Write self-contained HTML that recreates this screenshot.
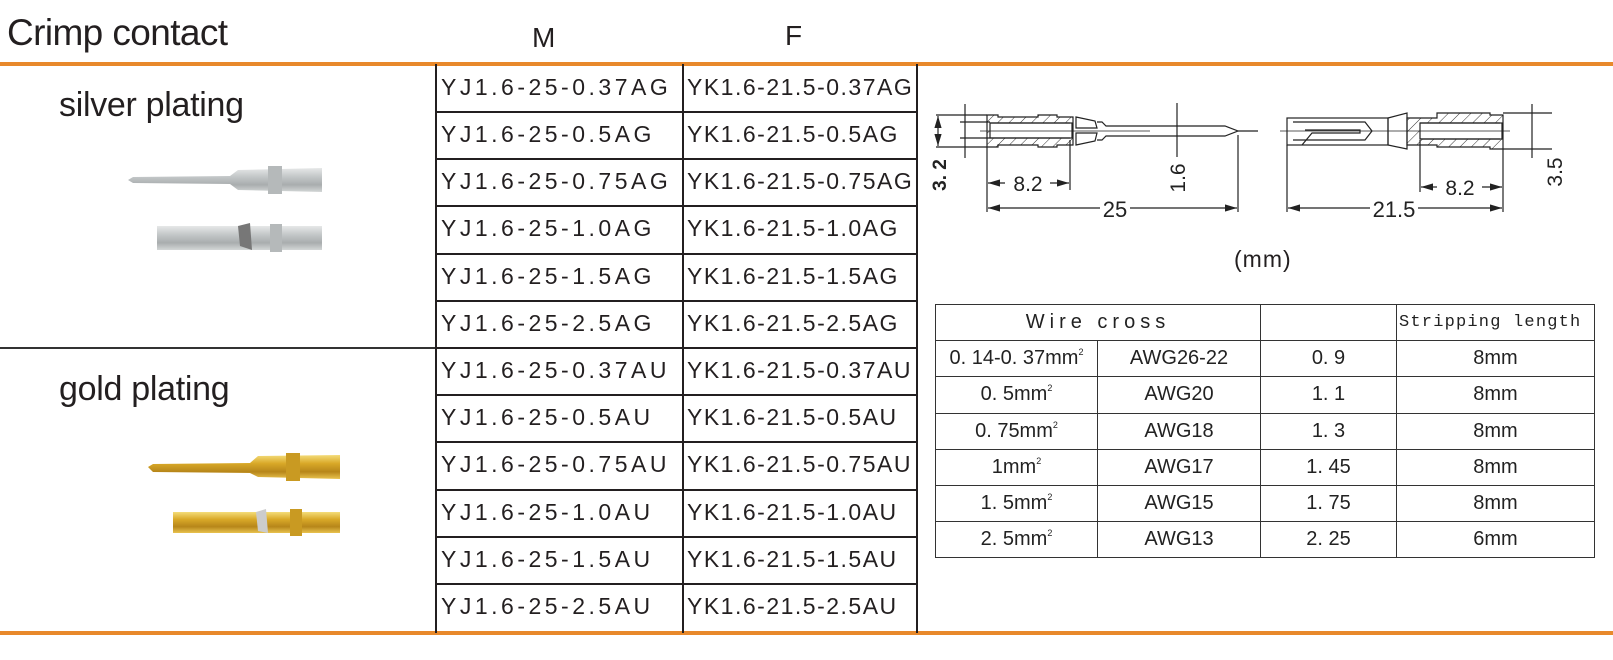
<!DOCTYPE html>
<html><head><meta charset="utf-8"><style>
*{margin:0;padding:0;box-sizing:border-box}
body{width:1613px;height:660px;background:#fff;position:relative;overflow:hidden;font-family:"Liberation Sans",Arial,sans-serif;color:#231f20}
.a{position:absolute;white-space:nowrap}
.hl{position:absolute;background:#231f20}
.cell{position:absolute;font-size:23px;letter-spacing:3.5px;line-height:47px;padding-left:5px;white-space:nowrap}
.f{letter-spacing:1.5px;padding-left:4px}
table.w{position:absolute;left:935px;top:304px;border-collapse:collapse}
table.w td{border:1.5px solid #333;height:36.2px;text-align:center;font-size:20px;padding:0;color:#222}
sup{font-size:9px;vertical-align:9px}
</style></head><body>
<div class="a" style="left:7px;top:12px;font-size:37px;letter-spacing:-0.6px">Crimp contact</div>
<div class="a" style="left:532px;top:22px;font-size:28px">M</div>
<div class="a" style="left:785px;top:20px;font-size:28px">F</div>
<div class="a" style="left:0;top:62px;width:1613px;height:4px;background:#e8892b"></div>
<div class="a" style="left:0;top:631px;width:1613px;height:4px;background:#e8892b"></div>
<div class="a" style="left:0;top:347px;width:436px;height:2px;background:#333"></div>
<div class="a" style="left:59px;top:86px;font-size:34px;letter-spacing:-0.3px">silver plating</div>
<div class="a" style="left:59px;top:370px;font-size:34px;letter-spacing:-0.3px">gold plating</div>

<div class="hl" style="left:435px;top:64px;width:2px;height:569px"></div>
<div class="hl" style="left:682px;top:64px;width:2px;height:569px"></div>
<div class="hl" style="left:916px;top:64px;width:2px;height:569px"></div>
<div style="position:absolute;left:436px;top:64px;width:481px">
<div style="position:relative">
<div class="hl" style="left:0;top:47px;width:481px;height:2px"></div>
<div class="hl" style="left:0;top:94px;width:481px;height:2px"></div>
<div class="hl" style="left:0;top:141px;width:481px;height:2px"></div>
<div class="hl" style="left:0;top:189px;width:481px;height:2px"></div>
<div class="hl" style="left:0;top:236px;width:481px;height:2px"></div>
<div class="hl" style="left:0;top:283px;width:481px;height:2px"></div>
<div class="hl" style="left:0;top:330px;width:481px;height:2px"></div>
<div class="hl" style="left:0;top:377px;width:481px;height:2px"></div>
<div class="hl" style="left:0;top:425px;width:481px;height:2px"></div>
<div class="hl" style="left:0;top:472px;width:481px;height:2px"></div>
<div class="hl" style="left:0;top:519px;width:481px;height:2px"></div>
<div class="cell" style="left:0;top:0">YJ1.6-25-0.37AG</div><div class="cell f" style="left:247px;top:0">YK1.6-21.5-0.37AG</div>
<div class="cell" style="left:0;top:47px">YJ1.6-25-0.5AG</div><div class="cell f" style="left:247px;top:47px">YK1.6-21.5-0.5AG</div>
<div class="cell" style="left:0;top:94px">YJ1.6-25-0.75AG</div><div class="cell f" style="left:247px;top:94px">YK1.6-21.5-0.75AG</div>
<div class="cell" style="left:0;top:141px">YJ1.6-25-1.0AG</div><div class="cell f" style="left:247px;top:141px">YK1.6-21.5-1.0AG</div>
<div class="cell" style="left:0;top:189px">YJ1.6-25-1.5AG</div><div class="cell f" style="left:247px;top:189px">YK1.6-21.5-1.5AG</div>
<div class="cell" style="left:0;top:236px">YJ1.6-25-2.5AG</div><div class="cell f" style="left:247px;top:236px">YK1.6-21.5-2.5AG</div>
<div class="cell" style="left:0;top:283px">YJ1.6-25-0.37AU</div><div class="cell f" style="left:247px;top:283px">YK1.6-21.5-0.37AU</div>
<div class="cell" style="left:0;top:330px">YJ1.6-25-0.5AU</div><div class="cell f" style="left:247px;top:330px">YK1.6-21.5-0.5AU</div>
<div class="cell" style="left:0;top:377px">YJ1.6-25-0.75AU</div><div class="cell f" style="left:247px;top:377px">YK1.6-21.5-0.75AU</div>
<div class="cell" style="left:0;top:425px">YJ1.6-25-1.0AU</div><div class="cell f" style="left:247px;top:425px">YK1.6-21.5-1.0AU</div>
<div class="cell" style="left:0;top:472px">YJ1.6-25-1.5AU</div><div class="cell f" style="left:247px;top:472px">YK1.6-21.5-1.5AU</div>
<div class="cell" style="left:0;top:519px">YJ1.6-25-2.5AU</div><div class="cell f" style="left:247px;top:519px">YK1.6-21.5-2.5AU</div>
</div></div>

<svg class="a" style="left:0;top:0" width="436" height="620">
<defs>
<linearGradient id="sv" x1="0" y1="0" x2="0" y2="1"><stop offset="0" stop-color="#e6e8e8"/><stop offset=".35" stop-color="#c4c8c9"/><stop offset=".7" stop-color="#a9adae"/><stop offset="1" stop-color="#d3d6d6"/></linearGradient>
<linearGradient id="gd" x1="0" y1="0" x2="0" y2="1"><stop offset="0" stop-color="#f4dc7a"/><stop offset=".35" stop-color="#d9a928"/><stop offset=".7" stop-color="#b7861a"/><stop offset="1" stop-color="#e9c34f"/></linearGradient>
</defs>
<path d="M128 180 L133 177 L230 176 L238 170 L322 168 L322 192 L238 190 L230 184 L133 183 Z" fill="url(#sv)"/>
<rect x="268" y="166" width="14" height="28" fill="#b5b9ba"/>
<rect x="157" y="226" width="165" height="24" fill="url(#sv)"/>
<rect x="270" y="224" width="12" height="28" fill="#b5b9ba"/>
<path d="M238 226 L250 223 L252 250 L240 246 Z" fill="#777"/>
<path d="M148 467 L153 464 L250 463 L258 456 L340 455 L340 479 L258 477 L250 473 L153 472 Z" fill="url(#gd)"/>
<rect x="286" y="453" width="14" height="28" fill="#c99a22"/>
<rect x="173" y="512" width="167" height="21" fill="url(#gd)"/>
<rect x="290" y="509" width="12" height="27" fill="#c99a22"/>
<path d="M256 512 L266 509 L268 533 L258 531 Z" fill="#ccc"/>
</svg>

<svg class="a" style="left:0;top:0" width="1613" height="240" stroke="#222" fill="none" stroke-width="1.2" font-family="Liberation Sans,Arial,sans-serif">
<defs><pattern id="h" width="8" height="8" patternUnits="userSpaceOnUse" patternTransform="rotate(45)"><line x1="0" y1="0" x2="0" y2="8" stroke="#333" stroke-width="1"/></pattern>
<marker id="ar" markerWidth="10" markerHeight="6" refX="10" refY="3" orient="auto-start-reverse"><path d="M0 0 L10 3 L0 6 Z" fill="#222" stroke="none"/></marker></defs>
<path d="M987 115 H998 V117 H1038 V115 H1057 V117 H1073 V145 H1057 V147 H1038 V145 H998 V147 H987 Z" fill="url(#h)"/>
<rect x="990" y="123" width="82" height="15" fill="#fff"/>
<line x1="990" y1="123" x2="1070" y2="123"/><line x1="990" y1="138" x2="1070" y2="138"/>
<path d="M1076 117 L1095 121 L1097 128 L1076 128 Z M1076 145 L1095 141 L1097 133 L1076 133 Z"/>
<path d="M1097 122 H1102 L1106 126 L1225 126 L1238 131 L1225 136 L1106 136 L1102 140 H1097"/>
<line x1="1238" y1="131" x2="1258" y2="131"/>
<line x1="980" y1="131" x2="1150" y2="131" stroke-width="0.8"/>
<line x1="936" y1="115" x2="987" y2="115"/><line x1="936" y1="147" x2="987" y2="147"/>
<line x1="938" y1="116" x2="938" y2="146" marker-start="url(#ar)" marker-end="url(#ar)"/>
<line x1="965" y1="104" x2="965" y2="158"/><line x1="960" y1="122" x2="990" y2="122"/><line x1="960" y1="138" x2="990" y2="138"/>
<line x1="1177" y1="103" x2="1177" y2="157"/>
<line x1="987" y1="147" x2="987" y2="212"/><line x1="1070" y1="140" x2="1070" y2="190"/><line x1="1238" y1="135" x2="1238" y2="212"/>
<line x1="988" y1="183" x2="1005" y2="183" marker-start="url(#ar)"/><line x1="1050" y1="183" x2="1069" y2="183" marker-end="url(#ar)"/>
<line x1="988" y1="208" x2="1100" y2="208" marker-start="url(#ar)"/><line x1="1130" y1="208" x2="1237" y2="208" marker-end="url(#ar)"/>
<g stroke="none" fill="#222">
<text x="1028" y="191" font-size="21" text-anchor="middle">8.2</text>
<text x="1115" y="217" font-size="22" text-anchor="middle">25</text>
<text transform="translate(946 175) rotate(-90)" font-size="19" font-weight="bold" text-anchor="middle">3. 2</text>
<text transform="translate(1185 178) rotate(-90)" font-size="21" text-anchor="middle">1.6</text>
</g>
<rect x="1287" y="118" width="101" height="27"/>
<path d="M1293 122 H1365 L1372 131 L1365 140 H1293" />
<path d="M1305 130 H1360 V133 H1312 L1302 145" />
<path d="M1388 118 L1407 113 V149 L1388 145 Z"/>
<path d="M1407 118 H1437 V113 H1490 V115 H1503 V149 H1490 V147 H1437 V145 H1407 Z" fill="url(#h)"/>
<rect x="1420" y="123" width="82" height="16" fill="#fff"/>
<line x1="1420" y1="123" x2="1500" y2="123"/><line x1="1420" y1="139" x2="1500" y2="139"/>
<line x1="1280" y1="131" x2="1510" y2="131" stroke-width="0.8"/>
<line x1="1503" y1="113" x2="1552" y2="113"/><line x1="1503" y1="149" x2="1552" y2="149"/>
<line x1="1532" y1="104" x2="1532" y2="158"/>
<line x1="1287" y1="145" x2="1287" y2="212"/><line x1="1503" y1="149" x2="1503" y2="212"/><line x1="1420" y1="140" x2="1420" y2="192"/>
<line x1="1421" y1="187" x2="1437" y2="187" marker-start="url(#ar)"/><line x1="1482" y1="187" x2="1502" y2="187" marker-end="url(#ar)"/>
<line x1="1288" y1="208" x2="1370" y2="208" marker-start="url(#ar)"/><line x1="1418" y1="208" x2="1502" y2="208" marker-end="url(#ar)"/>
<g stroke="none" fill="#222">
<text x="1460" y="195" font-size="21" text-anchor="middle">8.2</text>
<text x="1394" y="217" font-size="22" text-anchor="middle">21.5</text>
<text transform="translate(1562 172) rotate(-90)" font-size="21" text-anchor="middle">3.5</text>
</g>
</svg>
<div class="a" style="left:1234px;top:246px;font-size:23px;letter-spacing:1px">(mm)</div>

<table class="w">
<tr><td colspan="2" style="width:325px;letter-spacing:5px;font-size:20px">Wire cross</td><td style="width:136px"></td><td style="width:198px;font-family:'Liberation Mono',monospace;font-size:17px;letter-spacing:1.2px;text-align:left;padding-left:2px">Stripping length</td></tr>
<tr><td style="width:162px">0. 14-0. 37mm<sup>2</sup></td><td style="width:163px">AWG26-22</td><td>0. 9</td><td>8mm</td></tr>
<tr><td>0. 5mm<sup>2</sup></td><td>AWG20</td><td>1. 1</td><td>8mm</td></tr>
<tr><td>0. 75mm<sup>2</sup></td><td>AWG18</td><td>1. 3</td><td>8mm</td></tr>
<tr><td>1mm<sup>2</sup></td><td>AWG17</td><td>1. 45</td><td>8mm</td></tr>
<tr><td>1. 5mm<sup>2</sup></td><td>AWG15</td><td>1. 75</td><td>8mm</td></tr>
<tr><td>2. 5mm<sup>2</sup></td><td>AWG13</td><td>2. 25</td><td>6mm</td></tr>
</table>
</body></html>
